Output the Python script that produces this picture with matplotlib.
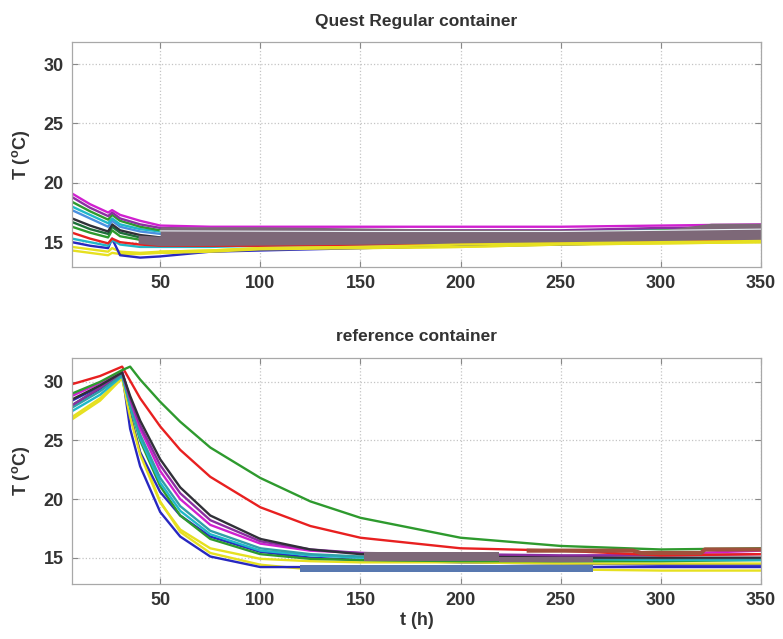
import matplotlib
matplotlib.use("Agg")
import matplotlib.pyplot as plt

plt.rcParams['font.family'] = ['Liberation Sans', 'DejaVu Sans']
plt.rcParams['mathtext.fontset'] = 'custom'
plt.rcParams['mathtext.rm'] = 'Liberation Sans:bold'
plt.rcParams['mathtext.default'] = 'rm'

# ---------------- data: top panel (Quest Regular container) ----------------
top_t = [6, 15, 24, 26, 30, 40, 50, 75, 100, 150, 200, 250, 300, 350]
top_magenta = [19.1, 18.2, 17.5, 17.7, 17.3, 16.8, 16.4, 16.3, 16.3, 16.3, 16.3, 16.3, 16.4, 16.5]
top_purple = [18.8, 17.9, 17.2, 17.5, 17.0, 16.5, 16.2, 16.1, 16.1, 16.0, 16.0, 16.0, 16.2, 16.3]
top_green = [18.4, 17.6, 16.9, 17.3, 16.8, 16.3, 16.0, 15.9, 15.9, 15.8, 15.8, 15.8, 16.0, 16.1]
top_cyan = [18.0, 17.3, 16.6, 17.0, 16.5, 16.1, 15.9, 15.9, 15.9, 15.9, 15.9, 15.9, 16.1, 16.2]
top_lblue = [17.7, 17.0, 16.3, 16.8, 16.3, 15.9, 15.7, 15.7, 15.7, 15.7, 15.7, 15.8, 15.9, 16.0]
top_black = [17.0, 16.4, 15.9, 16.5, 16.0, 15.6, 15.4, 15.4, 15.4, 15.4, 15.4, 15.5, 15.6, 15.7]
top_dgreen = [16.7, 16.1, 15.7, 16.3, 15.8, 15.4, 15.2, 15.2, 15.2, 15.2, 15.3, 15.4, 15.5, 15.6]
top_green2 = [16.3, 15.8, 15.4, 16.0, 15.5, 15.2, 15.0, 15.0, 15.0, 15.1, 15.1, 15.2, 15.4, 15.5]
top_red = [15.8, 15.3, 14.9, 15.3, 15.0, 14.8, 14.7, 14.7, 14.7, 14.8, 14.9, 15.0, 15.1, 15.2]
top_cyan2 = [15.3, 15.0, 14.7, 15.2, 14.8, 14.6, 14.6, 14.6, 14.7, 14.8, 14.9, 15.0, 15.1, 15.2]
top_blue = [15.0, 14.7, 14.5, 15.3, 13.9, 13.7, 13.8, 14.2, 14.3, 14.5, 14.7, 14.8, 15.0, 15.1]
top_yellow = [14.6, 14.4, 14.2, 14.5, 14.2, 14.1, 14.2, 14.3, 14.5, 14.6, 14.8, 14.9, 15.0, 15.1]
top_yellow2 = [14.3, 14.1, 13.9, 14.1, 14.0, 14.0, 14.1, 14.2, 14.4, 14.5, 14.6, 14.8, 14.9, 15.0]

top_band_t = [39, 50, 50, 100, 200, 300, 325, 350]
top_band_lo = [14.9, 14.7, 14.7, 14.75, 14.9, 15.1, 15.2, 15.2]
top_band_hi = [15.6, 15.5, 16.3, 16.3, 16.1, 16.0, 16.6, 16.6]
top_streak_t = [50, 150, 250, 350]
top_streak = [15.95, 15.9, 15.9, 16.1]

# ---------------- data: bottom panel (reference container) ----------------
bot_t = [6, 20, 31, 35, 40, 50, 60, 75, 100, 125, 150, 200, 250, 300, 350]
bot_green_slow = [29.0, 30.0, 31.0, 31.3, 30.2, 28.3, 26.6, 24.4, 21.8, 19.8, 18.4, 16.7, 16.0, 15.7, 15.8]
bot_red = [29.8, 30.5, 31.3, 30.1, 28.6, 26.2, 24.2, 21.9, 19.3, 17.7, 16.7, 15.8, 15.6, 15.2, 15.3]
bot_dark = [28.5, 29.7, 30.8, 28.8, 26.7, 23.4, 21.0, 18.6, 16.6, 15.7, 15.3, 15.1, 15.0, 15.0, 15.0]
bot_purple = [28.0, 29.5, 30.8, 28.6, 26.3, 22.9, 20.5, 18.2, 16.4, 15.7, 15.4, 15.3, 15.2, 15.2, 15.3]
bot_magenta = [28.8, 29.9, 30.9, 28.5, 26.0, 22.4, 20.0, 17.8, 16.2, 15.6, 15.4, 15.2, 15.1, 15.3, 15.6]
bot_cyan = [27.5, 28.9, 30.5, 27.9, 25.2, 21.4, 19.0, 17.0, 15.6, 15.2, 15.0, 14.9, 14.9, 14.8, 14.8]
bot_teal = [27.8, 29.2, 30.6, 28.1, 25.5, 21.8, 19.4, 17.3, 15.8, 15.3, 15.1, 15.0, 14.9, 14.9, 14.9]
bot_green = [28.0, 29.5, 30.8, 27.9, 25.0, 21.1, 18.6, 16.6, 15.3, 14.9, 14.8, 14.7, 14.7, 14.7, 14.8]
bot_yellow = [26.8, 28.4, 30.3, 27.0, 23.8, 19.7, 17.4, 15.8, 14.9, 14.7, 14.6, 14.6, 14.5, 14.5, 14.5]
bot_yellow2 = [27.0, 28.6, 30.4, 27.2, 24.0, 19.8, 17.2, 15.4, 14.4, 14.0, 14.0, 14.0, 14.0, 13.9, 13.9]
bot_blue = [28.4, 29.6, 30.8, 26.0, 22.8, 18.9, 16.8, 15.1, 14.2, 14.2, 14.2, 14.2, 14.2, 14.2, 14.2]
bot_blue2 = [28.0, 29.4, 30.6, 27.2, 24.0, 20.6, 18.6, 16.8, 15.5, 15.0, 14.8, 14.6, 14.5, 14.4, 14.4]

bot_brown_t = [234, 286, 290, 320, 322, 350]
bot_brown = [15.6, 15.6, 15.4, 15.4, 15.7, 15.7]
bot_mauve_t = [152, 219, 219, 266]
bot_mauve_lo = [14.7, 14.7, 14.6, 14.6]
bot_mauve_hi = [15.5, 15.5, 15.1, 15.1]
bot_steel_t = [120, 266]
bot_steel_lo = [13.75, 13.75]
bot_steel_hi = [14.35, 14.35]

x_ticks = [50, 100, 150, 200, 250, 300, 350]
y_ticks = [15, 20, 25, 30]

C = dict(magenta='#d020d0', purple='#8a2fa0', green='#2e9a2e', cyan='#20b8c8',
         lblue='#4a90e0', black='#303038', dgreen='#1e6e3a', red='#e82020',
         blue='#2828c0', yellow='#e6e020', teal='#30a0a8', brown='#a0503c',
         mauve='#7d6878', steel='#5878b0')

fig = plt.figure(figsize=(7.83, 6.39), dpi=100)
ax1 = fig.add_axes([0.092, 0.582, 0.880, 0.352])
ax2 = fig.add_axes([0.092, 0.086, 0.880, 0.354])

lw = 1.7
top_series = [
    (top_yellow2, C['yellow']), (top_yellow, C['yellow']), (top_blue, C['blue']),
    (top_cyan2, C['cyan']), (top_red, C['red']), (top_green2, C['green']),
    (top_dgreen, C['dgreen']), (top_black, C['black']), (top_lblue, C['lblue']),
    (top_cyan, C['cyan']), (top_green, C['green']), (top_purple, C['purple']),
    (top_magenta, C['magenta']),
]
for vals, col in top_series:
    ax1.plot(top_t, vals, color=col, lw=lw, zorder=2)
ax1.fill_between(top_band_t, top_band_lo, top_band_hi, color=C['mauve'], lw=0, zorder=3)
ax1.plot(top_streak_t, top_streak, color='#e8f0f4', lw=0.8, zorder=4)
ax1.plot(top_t[6:], top_yellow[6:], color=C['yellow'], lw=lw, zorder=4)
ax1.plot(top_t[6:], top_yellow2[6:], color=C['yellow'], lw=lw, zorder=4)

bot_series = [
    (bot_yellow2, C['yellow']), (bot_blue, C['blue']), (bot_blue2, C['blue']),
    (bot_yellow, C['yellow']), (bot_green, C['green']), (bot_cyan, C['cyan']),
    (bot_teal, C['teal']), (bot_magenta, C['magenta']), (bot_purple, C['purple']),
    (bot_dark, C['black']), (bot_red, C['red']), (bot_green_slow, C['green']),
]
for vals, col in bot_series:
    ax2.plot(bot_t, vals, color=col, lw=lw, zorder=2)
ax2.fill_between(bot_mauve_t, bot_mauve_lo, bot_mauve_hi, color=C['mauve'], lw=0, zorder=3)
ax2.fill_between(bot_steel_t, bot_steel_lo, bot_steel_hi, color=C['steel'], lw=0, zorder=3)
ax2.plot(bot_brown_t, bot_brown, color=C['brown'], lw=3, zorder=4)

txt = '#333333'
for ax, ylim in ((ax1, (12.9, 31.85)), (ax2, (12.75, 32.05))):
    ax.set_xlim(6, 350)
    ax.set_ylim(*ylim)
    ax.set_xticks(x_ticks)
    ax.set_yticks(y_ticks)
    ax.grid(True, linestyle=':', color='#c4c4c4', lw=0.9)
    ax.set_axisbelow(True)
    for s in ax.spines.values():
        s.set_color('#a8a8a8')
        s.set_linewidth(0.9)
        s.set_zorder(5)
    ax.tick_params(direction='in', length=4, color='#888888', top=True, right=True,
                   labelsize=13, labelcolor=txt, pad=6)
    for lab in ax.get_xticklabels() + ax.get_yticklabels():
        lab.set_fontweight('bold')
    ax.set_ylabel('T ($^{o}$C)', fontsize=13, fontweight='bold', color=txt, labelpad=8)

ax1.set_title('Quest Regular container', fontsize=12.5, fontweight='bold', color=txt, pad=12)
ax2.set_title('reference container', fontsize=12.5, fontweight='bold', color=txt, pad=12)
ax2.set_xlabel('t (h)', fontsize=13, fontweight='bold', color=txt, labelpad=2)

fig.savefig('out.png', dpi=100, facecolor='white')
